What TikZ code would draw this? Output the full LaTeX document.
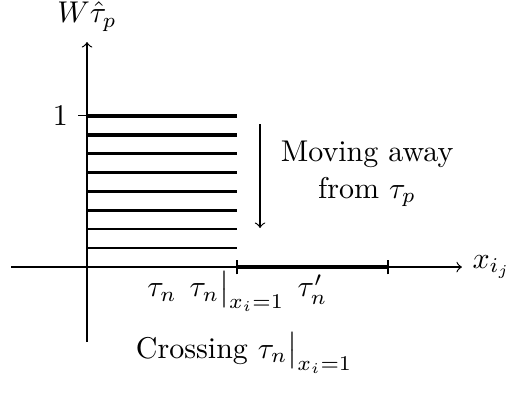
\documentclass[tikz,border=0pt]{standalone}
\usepackage{amsmath,amsfonts,amssymb}
\usetikzlibrary{arrows}

\begin{document}
\begin{tikzpicture}
\useasboundingbox (-1.019,-1.475) rectangle (4.918,3.127);
\draw[->] (-0.89,0) -- (4.39,0);
\draw (4.39,0) node[right] (xlab) {$x_{i_j}$};
\draw[->] (0,-0.88) -- (0,2.635);
\draw (0,2.635) node[above] (ylab) {$W\hat{\tau}_p$};
\draw (0,1.77) -- (-0.1,1.77) node[left] (one) {1};
\foreach \k/\w in {1/0.45,2/0.6,3/0.75,4/0.85,5/0.95,6/1.0,7/1.1,8/1.6} {
  \draw[line width=\w pt] (0,0.221*\k) -- (1.756,0.221*\k);
}
\draw[line width=1.6pt] (1.756,0) -- (3.525,0);
\draw (1.756,-0.085) -- (1.756,0.085);
\draw (3.525,-0.085) -- (3.525,0.085);
%\draw[dashed] (1.756,0) -- (1.756,1.77);

\draw[->] (2.026,1.674) -- (2.026,0.457);
\node[align=center] (move) at (3.28,1.089) {Moving away\\from $\tau_p$};

\node[anchor=base] (tn) at (0.878,-0.35) {$\tau_n$};
\node[anchor=base] (tnx) at (1.756,-0.35) {$\tau_n\big|_{x_i=1}$};
\node[anchor=base] (tnp) at (2.64,-0.35) {$\tau'_n$};
\node[anchor=base] (cross) at (1.84,-1.066) {Crossing $\tau_n\big|_{x_i=1}$};
\end{tikzpicture}
\end{document}
